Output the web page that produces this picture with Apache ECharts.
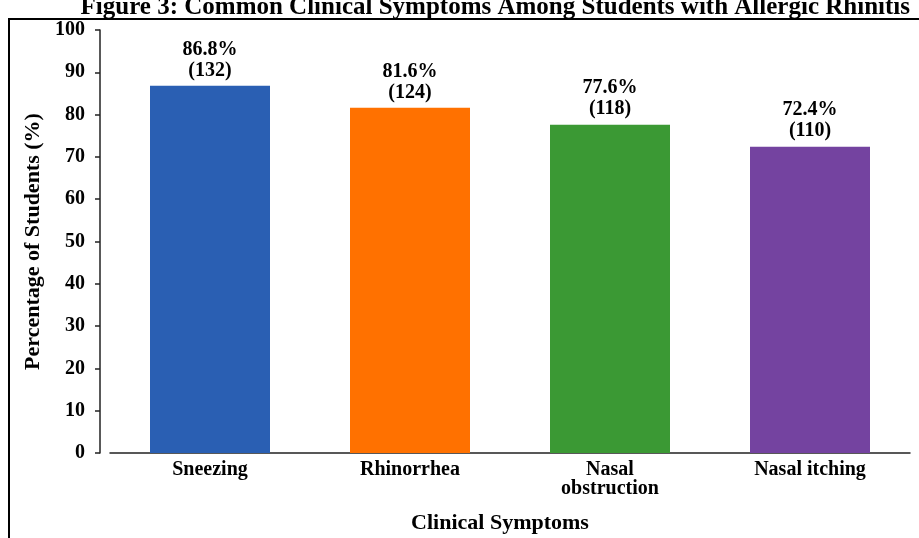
<!DOCTYPE html>
<html>
<head>
<meta charset="utf-8">
<script src="https://cdn.jsdelivr.net/npm/echarts@6/dist/echarts.min.js"></script>
<style>
  html, body { margin: 0; padding: 0; background: #fff; }
  #myChart { width: 919px; height: 538px; }
</style>
</head>
<body>
<div id="myChart"></div>
<script>
// 数据
var symptoms = ['Sneezing', 'Rhinorrhea', 'Nasal\nobstruction', 'Nasal itching'];
var percents = [86.8, 81.6, 77.6, 72.4];
var counts = [132, 124, 118, 110];
var barColors = ['#2a5fb3', '#ff7100', '#3b9934', '#7443a0'];

var serif = '"Liberation Serif", "Times New Roman", serif';

var myChart = echarts.init(document.getElementById('myChart'));
var option = {
    animation: false,
    backgroundColor: '#fff',
    title: {
        text: 'Figure 3: Common Clinical Symptoms Among Students with Allergic Rhinitis',
        right: 4,
        top: -10,
        textStyle: { fontFamily: serif, fontSize: 25, fontWeight: 'bold', color: '#000' }
    },
    graphic: [{
        type: 'rect',
        shape: { x: 9, y: 19, width: 1000, height: 600 },
        style: { fill: 'none', stroke: '#000', lineWidth: 2 },
        silent: true
    }],
    grid: { left: 110, right: 9, top: 30, bottom: 85, outerBoundsMode: 'none' },
    xAxis: {
        type: 'category',
        data: symptoms,
        name: 'Clinical Symptoms',
        nameLocation: 'middle',
        nameGap: 59,
        nameTextStyle: { fontFamily: serif, fontSize: 22, fontWeight: 'bold', color: '#000', padding: [0, 20, 0, 0] },
        axisTick: { show: false },
        axisLine: { lineStyle: { color: '#222', width: 1.5 } },
        axisLabel: {
            interval: 0,
            margin: 7,
            fontFamily: serif, fontSize: 20, fontWeight: 'bold', color: '#000',
            lineHeight: 19
        }
    },
    yAxis: {
        type: 'value',
        min: 0,
        max: 100,
        interval: 10,
        offset: 10,
        name: 'Percentage of Students (%)',
        nameLocation: 'middle',
        nameGap: 56,
        nameTextStyle: { fontFamily: serif, fontSize: 22, fontWeight: 'bold', color: '#000' },
        splitLine: { show: false },
        axisLine: { show: true, lineStyle: { color: '#222', width: 1.5 } },
        axisTick: { show: true, length: 5, lineStyle: { color: '#222', width: 1.5 } },
        axisLabel: { margin: 15, fontFamily: serif, fontSize: 20, fontWeight: 'bold', color: '#000' }
    },
    series: [{
        type: 'bar',
        barWidth: 120,
        data: percents.map(function (v, i) {
            return { value: v, itemStyle: { color: barColors[i] } };
        }),
        label: {
            show: true,
            position: 'top',
            distance: 5,
            fontFamily: serif, fontSize: 20, fontWeight: 'bold', color: '#000',
            lineHeight: 21,
            formatter: function (p) {
                return p.value + '%\n(' + counts[p.dataIndex] + ')';
            }
        }
    }]
};
myChart.setOption(option);
window.onresize = myChart.resize;
</script>
</body>
</html>
